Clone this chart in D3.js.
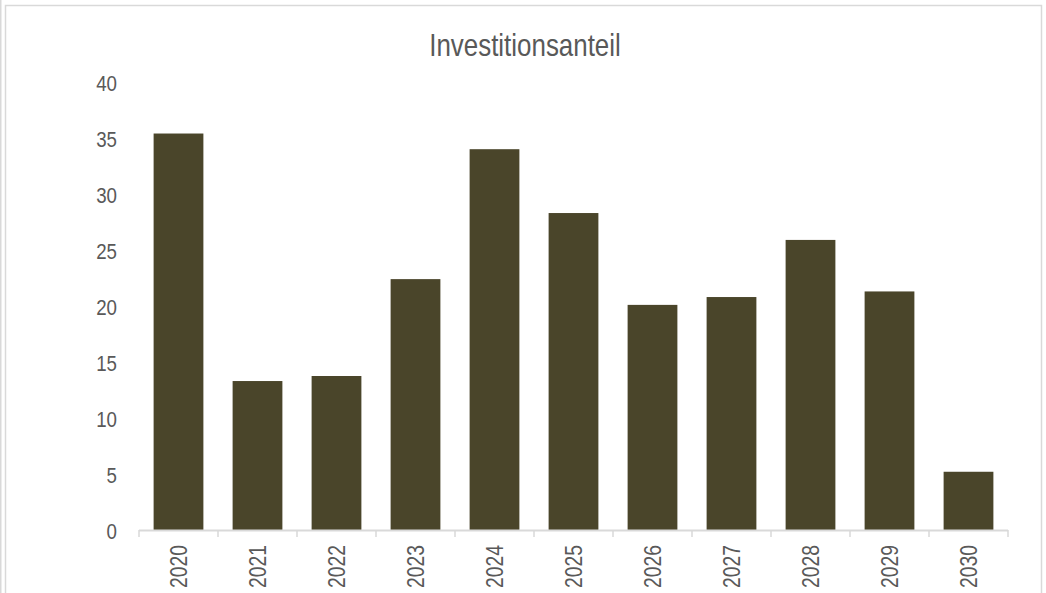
<!DOCTYPE html>
<html><head><meta charset="utf-8">
<script src="https://cdn.jsdelivr.net/npm/d3@7"></script>
<style>
body{margin:0;background:#fff;}
text{font-family:"Liberation Sans",Arial,sans-serif;fill:#595959;}
</style></head><body>
<svg id="c" width="1046" height="593"></svg>
<script>
const years = ["2020","2021","2022","2023","2024","2025","2026","2027","2028","2029","2030"];
const values = [35.4, 13.3, 13.75, 22.4, 34.0, 28.3, 20.1, 20.8, 25.9, 21.3, 5.2];
const yTicks = [0,5,10,15,20,25,30,35,40];
const title = "Investitionsanteil";

const svg = d3.select("#c");
svg.append("rect").attr("x",0).attr("y",0).attr("width",1.5).attr("height",593).attr("fill","#d9d9d9");
svg.append("rect").attr("x",5.5).attr("y",5.5).attr("width",1036).attr("height",600)
  .attr("fill","#fff").attr("stroke","#d9d9d9").attr("stroke-width",1.5);

const x = d3.scaleBand().domain(years).range([139,1008]).paddingInner(0.37).paddingOuter(0.185);
const y = d3.scaleLinear().domain([0,40]).range([530,82]);

svg.append("text").attr("transform","translate(525,56) scale(0.81,1)").attr("text-anchor","middle")
  .attr("font-size",32).text(title);

const ya = svg.append("g").attr("transform","translate(117,0)")
  .call(d3.axisLeft(y).tickValues(yTicks).tickSize(0).tickPadding(0));
ya.select(".domain").remove();
ya.selectAll("text").attr("font-size",22).attr("fill","#595959").attr("x",null).attr("dy",null)
  .attr("transform","translate(0,8) scale(0.85,1)")
  .style("font-family",'"Liberation Sans",Arial,sans-serif');

svg.append("g").selectAll("rect").data(values).join("rect")
  .attr("x",(d,i)=>x(years[i])).attr("width",x.bandwidth())
  .attr("y",d=>y(d)).attr("height",d=>y(0)-y(d)).attr("fill","#4a452a");

// category axis
const xa = svg.append("g").attr("transform","translate(0,530)");
xa.append("line").attr("x1",139).attr("x2",1008).attr("y1",0.5).attr("y2",0.5)
  .attr("stroke","#d9d9d9").attr("stroke-width",2);
const step = x.step();
const start = x(years[0]) - x.paddingOuter()*step;
const bounds = d3.range(years.length+1).map(i=>start + i*step);
xa.selectAll("line.tk").data(bounds).join("line").attr("class","tk")
  .attr("x1",d=>d).attr("x2",d=>d).attr("y1",0).attr("y2",7)
  .attr("stroke","#d9d9d9").attr("stroke-width",1.5);
xa.selectAll("text.lb").data(years).join("text").attr("class","lb")
  .attr("transform",d=>`translate(${x(d)+x.bandwidth()/2+8},15) rotate(-90) scale(0.84,1)`)
  .attr("text-anchor","end").attr("font-size",23).text(d=>d);
</script></body></html>
